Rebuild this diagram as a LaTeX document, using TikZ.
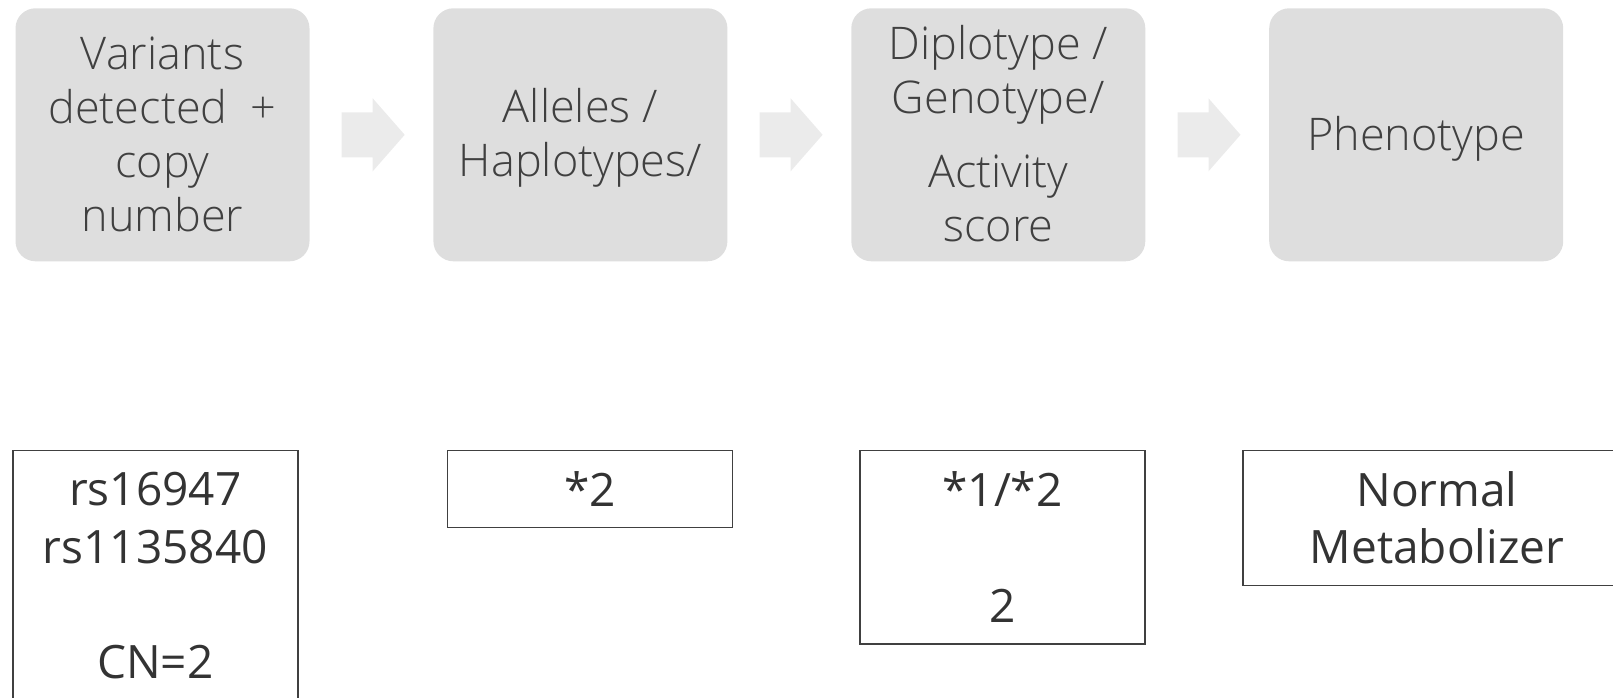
\documentclass[tikz,border=0pt]{standalone}
\usepackage{fontspec}
\setmainfont{Open Sans}
\newfontfamily\lightfont{Open Sans Light}
\usetikzlibrary{positioning}
\definecolor{boxgrey}{HTML}{DEDEDE}
\definecolor{arrowgrey}{HTML}{EBEBEB}
\definecolor{textgrey}{HTML}{404040}
\definecolor{darktext}{HTML}{333333}

\begin{document}
\begin{tikzpicture}
	[x=1pt, y=-1pt,
	stagebox/.style={fill=boxgrey, rounded corners=20pt, minimum width=294pt, minimum height=253pt, inner sep=0pt},
	stagetext/.style={inner sep=0pt, align=center, text=textgrey, font=\lightfont\fontsize{45}{54}\selectfont},
	valuebox/.style={draw=textgrey, line width=1.5pt, anchor=north, minimum width=285pt,
		inner sep=0pt, align=center, text=darktext, font=\fontsize{46}{57.6}\selectfont},
	stagearrow/.style={fill=arrowgrey}]
	\useasboundingbox (0,0) rectangle (1613,698);
	\node[stagebox, label={[stagetext]center:{Variants\\detected\ \ +\\copy\\number}}] (var) at (162.5,134.8) {};
	\node[stagebox, right=123.5pt of var, label={[stagetext, yshift=-3pt]center:{Alleles /\\Haplotypes/}}] (hap) {};
	\node[stagebox, right=123.5pt of hap, label={[stagetext, yshift=1pt]center:{Diplotype /\\Genotype/\\[20pt]Activity\\score}}] (dip) {};
	\node[stagebox, right=123.5pt of dip, label={[stagetext, yshift=-4pt]center:{Phenotype}}] (phen) {};
	\foreach \a in {var,hap,dip}
		\fill[stagearrow] ([xshift=32pt,yshift=22.5pt]\a.east) -- ++(31,0) -- ++(0,-14)
			-- ++(32,36.5) -- ++(-32,36.5) -- ++(0,-14) -- ++(-31,0) -- cycle;
	\node[valuebox, minimum height=250.5pt] (varval) at (155.3,449.5) {rs16947\\rs1135840\\[57.6pt]CN=2};
	\node[valuebox, minimum height=77pt] (hapval) at (590,449.5) {*2};
	\node[valuebox, minimum height=193.5pt] (dipval) at (1002.5,449.5) {*1/*2\\[57.6pt]2};
	\node[valuebox, minimum width=388pt, minimum height=135pt] (phenval) at (1437,449.5) {Normal\\Metabolizer};
\end{tikzpicture}
\end{document}
